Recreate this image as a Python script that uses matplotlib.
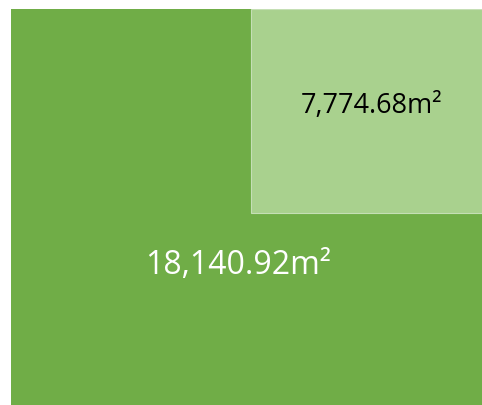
import matplotlib
matplotlib.use("Agg")
import matplotlib.pyplot as plt
from matplotlib.patches import Rectangle

labels = ["18,140.92m²", "7,774.68m²"]
values = [18140.92, 7774.68]
colors = ["#70AD47", "#A9D18E"]
text_colors = ["white", "black"]

fig = plt.figure(figsize=(4.82, 4.06), dpi=100)
ax = fig.add_axes([11/482, 0, 471/482, 396/406])
ax.set_xlim(0, 1)
ax.set_ylim(0, 1)
ax.axis("off")

# layout of the tiles (x, y, w, h) in axes units
layout = [(0, 0, 1, 1), (240/471, 192/396, 231/471, 204/396)]
for (x, y, w, h), c, i in zip(layout, colors, range(2)):
    ax.add_patch(Rectangle((x, y), w, h, facecolor=c, edgecolor="#C5DFB5" if i else "none",
                           linewidth=0.8))

ax.text(227/471, 1 - 256/396, labels[0], color=text_colors[0], fontsize=23,
        family="Open Sans", ha="center", va="center")
ax.text(361/471, 1 - 96/396, labels[1], color=text_colors[1], fontsize=19.5,
        family="Open Sans", ha="center", va="center")

fig.savefig("out.png", dpi=100)
